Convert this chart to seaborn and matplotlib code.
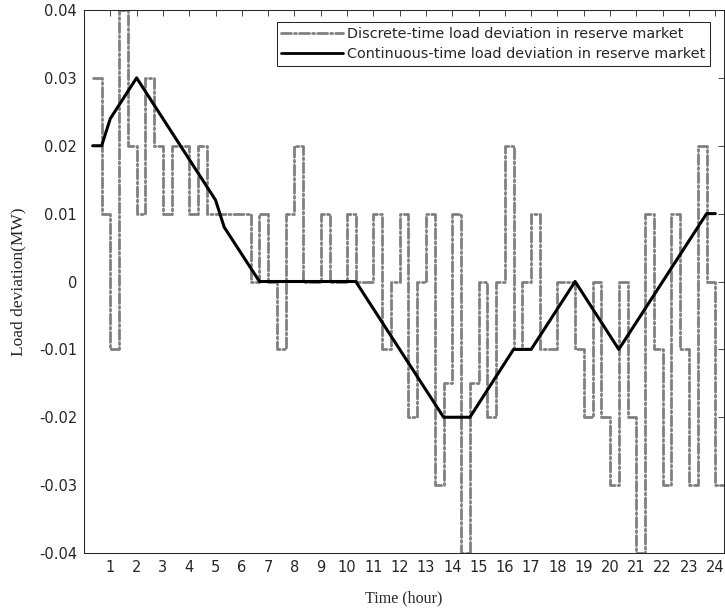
import numpy as np
import pandas as pd
import matplotlib
matplotlib.use("Agg")
import matplotlib.pyplot as plt
import seaborn as sns

# ---- data ----
# discrete-time load deviation: one value per 20-min interval, starting at t = 1/3 h
disc_values = [
    0.03, 0.01, -0.01, 0.04, 0.02, 0.01, 0.03, 0.02, 0.01,        # 0.33 - 3.33
    0.02, 0.02, 0.01, 0.02, 0.01, 0.01, 0.01, 0.01, 0.01,         # 3.33 - 6.33
    0.00, 0.01, 0.00, -0.01, 0.01, 0.02, 0.00, 0.00, 0.01,        # 6.33 - 9.33
    0.00, 0.00, 0.01, 0.00, 0.00, 0.01, -0.01, 0.00, 0.01,        # 9.33 - 12.33
    -0.02, 0.00, 0.01, -0.03, -0.015, 0.01, -0.04, -0.015, 0.00,  # 12.33 - 15.33
    -0.02, 0.00, 0.02, -0.01, 0.00, 0.01, -0.01, -0.01, 0.00,     # 15.33 - 18.33
    0.00, -0.01, -0.02, 0.00, -0.02, -0.03, 0.00, -0.02, -0.04,   # 18.33 - 21.33
    0.01, -0.01, -0.03, 0.01, -0.01, -0.03, 0.02, 0.00, -0.03,    # 21.33 - 24.33
]
# continuous-time load deviation: piecewise linear knots
cont_time = [0.33, 0.67, 1.0, 2.0, 5.0, 5.33, 6.67, 10.33, 13.67, 14.67,
             16.33, 17.0, 18.67, 20.33, 23.67, 24.0]
cont_values = [0.02, 0.02, 0.024, 0.03, 0.012, 0.008, 0.0, 0.0, -0.02, -0.02,
               -0.01, -0.01, 0.0, -0.01, 0.01, 0.01]

x_ticks = list(range(1, 25))
y_ticks = [-0.04, -0.03, -0.02, -0.01, 0.0, 0.01, 0.02, 0.03, 0.04]
y_tick_labels = ["-0.04", "-0.03", "-0.02", "-0.01", "0", "0.01", "0.02", "0.03", "0.04"]

label_disc = "Discrete-time load deviation in reserve market"
label_cont = "Continuous-time load deviation in reserve market"

# step edges (20-minute grid)
n = len(disc_values)
disc_time = np.arange(1, n + 2) / 3.0
disc_df = pd.DataFrame({"t": disc_time, "v": disc_values + [disc_values[-1]]})
cont_df = pd.DataFrame({"t": cont_time, "v": cont_values})

# ---- style ----
sns.set_style("white")
plt.rcParams["font.family"] = ["DejaVu Sans"]

fig = plt.figure(figsize=(7.25, 6.09), dpi=100)
ax = fig.add_axes([84 / 725, 1 - 553 / 609, 640 / 725, 543 / 609])

DASH = [3.6, 1.1, 0.7, 1.1]

sns.lineplot(data=disc_df, x="t", y="v", ax=ax, drawstyle="steps-post",
             color="#808080", linewidth=2.0, label=label_disc,
             estimator=None, sort=False)
l_disc = ax.lines[-1]
l_disc.set_dashes(DASH)
l_disc.set_dash_joinstyle("round")
l_disc.set_dash_capstyle("round")

sns.lineplot(data=cont_df, x="t", y="v", ax=ax, color="black", linewidth=2.2,
             label=label_cont, estimator=None, sort=False)
l_cont = ax.lines[-1]
l_cont.set_solid_joinstyle("round")

ax.set_xlim(0, 24.33)
ax.set_ylim(-0.04, 0.04)
ax.set_xticks(x_ticks)
ax.set_xticklabels([str(v) for v in x_ticks])
ax.set_yticks(y_ticks)
ax.set_yticklabels(y_tick_labels)

ax.tick_params(axis="both", which="major", direction="in", length=4.5, width=0.6,
               top=True, right=True, labelsize=10.5, colors="0.15", pad=5)
for sp in ax.spines.values():
    sp.set_color("0.15")
    sp.set_linewidth(0.75)

ax.set_xlabel("Time (hour)", family="Liberation Serif", fontsize=11.5, color="0.15", labelpad=11)
ax.set_ylabel("Load deviation(MW)", family="Liberation Serif", fontsize=12.5, color="0.15", labelpad=9)

leg = ax.legend(loc="upper right", bbox_to_anchor=(0.978, 0.977), borderaxespad=0,
                fontsize=10.4, frameon=True, fancybox=False, framealpha=1,
                edgecolor="0.15", handlelength=4.3, handletextpad=0.3,
                borderpad=0.3, labelspacing=0.45)
leg.get_frame().set_linewidth(0.75)
for lh in leg.get_lines():
    lh.set_linewidth(2.0)
leg.get_lines()[0].set_dashes(DASH)

fig.savefig("out.png", dpi=100)
